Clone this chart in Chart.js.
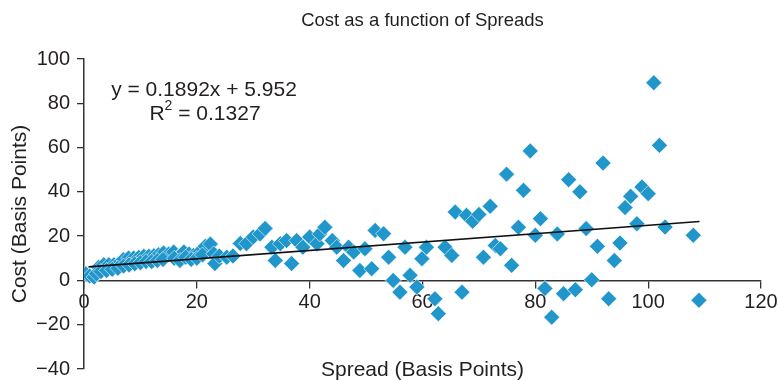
<!DOCTYPE html>
<html>
<head>
<meta charset="utf-8">
<script src="https://cdn.jsdelivr.net/npm/chart.js@4/dist/chart.umd.min.js"></script>
<style>
  html,body{margin:0;padding:0;background:#fff;}
  #wrap{width:778px;height:380px;position:relative;}
</style>
</head>
<body>
<div id="wrap"><canvas id="chart"></canvas></div>
<script>
// spread (x) and cost (y) in basis points
const spreadX = [
  0.3,2.6,3.5,4.4,5.3,6.1,7,7.9,8.8,9.7,10.6,11.5,12.4,13.2,14.1,15,15.9,16.8,17.7,18.6,19.4,20.6,21.5,22.4,
  1,1.8,2.2,3,4,5,6,7,8,9,10,11,12,13,14,16,17,18,19,20,21,
  23,23.2,24,25.3,26.4,27.7,28.8,30,31.2,32.1,33.3,33.9,34.8,35.9,36.8,37.7,38.8,40,41.3,41.8,42.7,
  44,44.8,46,46.9,47.8,48.9,49.8,51,51.6,53.1,54,54.8,56,56.9,57.8,59,59.9,60.7,62.2,62.8,64,
  65.2,65.8,67,67.8,68.9,70,70.8,72,72.9,73.8,74.9,75.8,77,77.9,79.1,80,80.9,81.7,82.9,83.9,85,85.9,87.1,87.9,
  89,90,91,92,93,94,95,95.9,96.9,98,98.9,100,101,102,103,108,109
];
const costY = [
  3,5.9,7.1,7.1,7.1,7.4,9.4,10.1,10.1,10.4,10.9,10.9,11.2,11.6,12.4,11.9,12.8,10.9,12.8,11.9,11.3,13.1,15.4,16.4,
  2,1.5,3,4,4.5,5,5.5,6.5,7,7.5,8,8.5,8.5,9,9.5,10,9,10.5,9.5,10,11.5,
  12,7.6,11,10.5,11,16.7,16.6,19.6,21,23.5,15,9,16.6,18,7.6,18,15,19.6,16.6,21,24,
  18,15,9,15,12.8,4.5,14.3,5.3,22.6,21.1,10.5,0,-5.3,15,2.3,-3,9.8,15,-8.3,-15,15,
  11.3,30.9,-5.3,29.4,26.7,29.8,10.5,33.5,15.8,14.3,48,6.8,24,40.7,58.5,20.4,27.9,-3.6,-16.6,21,-6,45.5,-4.2,40,
  23.4,0.3,15.4,53,-8.3,9,16.9,32.9,38,25.6,42.2,39.2,89.3,61,24.1,20.4,-9
];

// linear trend shown on the chart
const trendSlope = 0.1892;
const trendIntercept = 5.952;
const trendX = [0.8, 109.1];

const xTicks = [0,20,40,60,80,100,120];
const yTicks = [-40,-20,0,20,40,60,80,100];

const chartTitle = 'Cost as a function of Spreads';
const xTitle = 'Spread (Basis Points)';
const yTitle = 'Cost (Basis Points)';
const eqLine = 'y = 0.1892x + 5.952';
const r2Value = ' = 0.1327';

const FONT = '"Liberation Sans", Arial, Helvetica, sans-serif';
const INK = '#231f20';

const points = spreadX.map((x,i)=>({x, y: costY[i]}));
const trend = trendX.map(x=>({x, y: trendSlope*x + trendIntercept}));

const textPlugin = {
  id: 'texts',
  afterDraw(chart){
    const {ctx, chartArea:a} = chart;
    const cx = (a.left + a.right)/2;
    ctx.save();
    ctx.fillStyle = INK;
    ctx.textAlign = 'center';
    ctx.textBaseline = 'middle';

    ctx.font = '18.5px ' + FONT;
    ctx.fillText(chartTitle, cx, 21);

    ctx.font = '21px ' + FONT;
    ctx.fillText(xTitle, cx, 370);

    // equation label
    ctx.fillText(eqLine, 204, 90);
    const wR = ctx.measureText('R').width;
    const wRest = ctx.measureText(r2Value).width;
    ctx.font = '14px ' + FONT;
    const w2 = ctx.measureText('2').width;
    let x0 = 205 - (wR + w2 + wRest)/2;
    ctx.textAlign = 'left';
    ctx.font = '21px ' + FONT;
    ctx.fillText('R', x0, 114);
    ctx.font = '14px ' + FONT;
    ctx.fillText('2', x0 + wR, 106);
    ctx.font = '21px ' + FONT;
    ctx.fillText(r2Value, x0 + wR + w2, 114);

    // y axis title
    ctx.textAlign = 'center';
    ctx.translate(20, (a.top + a.bottom)/2);
    ctx.rotate(-Math.PI/2);
    ctx.fillText(yTitle, 0, 0);
    ctx.restore();
  }
};

const tickFmt = v => String(v).replace('-', '\u2212');
const noPad = s => { s.paddingLeft = s.paddingRight = s.paddingTop = s.paddingBottom = 0; };

new Chart(document.getElementById('chart'), {
  type: 'scatter',
  data: {
    datasets: [
      {
        type: 'line',
        data: trend,
        borderColor: '#111',
        borderWidth: 1.6,
        pointRadius: 0,
        fill: false,
        order: 0
      },
      {
        data: points,
        pointStyle: 'rectRot',
        pointRadius: 8,
        pointHoverRadius: 8,
        backgroundColor: '#2196cb',
        borderColor: '#ffffff',
        borderWidth: 0.6,
        order: 1
      }
    ]
  },
  options: {
    responsive: true,
    maintainAspectRatio: false,
    animation: false,
    layout: {padding: {top: 59, right: 17, bottom: 11, left: 0}},
    plugins: {legend: {display: false}, tooltip: {enabled: false}, title: {display: false}},
    scales: {
      x: {
        type: 'linear',
        position: {y: 0},
        min: 0, max: 120,
        afterBuildTicks: s => { s.ticks = xTicks.map(v=>({value:v})); },
        afterFit: s => { noPad(s); },
        ticks: {color: INK, font: {size: 20, family: FONT}, padding: 3, maxRotation: 0, callback: tickFmt},
        grid: {drawOnChartArea: false, tickLength: 7, tickColor: '#333', lineWidth: 1.3},
        border: {color: '#333', width: 1.5}
      },
      y: {
        type: 'linear',
        min: -40, max: 100,
        afterBuildTicks: s => { s.ticks = yTicks.map(v=>({value:v})); },
        afterFit: s => { s.width = 84; noPad(s); },
        ticks: {color: INK, font: {size: 20, family: FONT}, padding: 7, callback: tickFmt},
        grid: {drawOnChartArea: false, tickLength: 7, tickColor: '#333', lineWidth: 1.3},
        border: {color: '#333', width: 1.5}
      }
    }
  },
  plugins: [textPlugin]
});
</script>
</body>
</html>
